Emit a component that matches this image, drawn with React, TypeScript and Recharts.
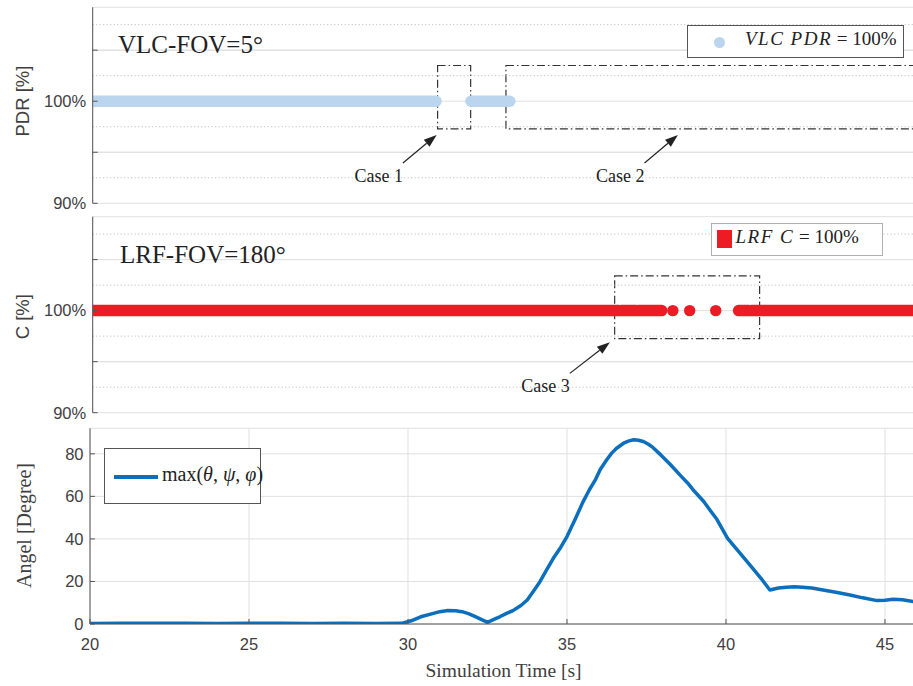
import React from "react";
import {
  ComposedChart,
  Line,
  Scatter,
  XAxis,
  YAxis,
  CartesianGrid,
  ReferenceArea,
  ReferenceLine,
  Legend,
} from "recharts";

// axis ticks
const timeTicks = [20, 25, 30, 35, 40, 45];
const timeDomain = [20, 45.9];
const pctTicks = [90, 95, 100, 105];
const pctMajor = [95, 105];
const pctMinor = [92.5, 97.5, 102.5, 107.5];
const pctDomain = [90, 109.2];
const angleTicks = [0, 20, 40, 60, 80];

// VLC PDR = 100% time spans
const vlcStart = [20, 31.9];
const vlcEnd = [30.8, 33.12];

// LRF C = 100% time spans and single samples
const lrfStart = [20, 36.62, 37.16, 40.32, 40.72];
const lrfEnd = [36.55, 37.1, 37.9, 40.65, 46];
const lrfSingle = [38.25, 38.78, 39.6];

// max(theta, psi, phi) in degrees
const angleTime = [
  20, 21, 22, 23, 24, 25, 26, 27, 28, 29, 29.8, 30.1, 30.4, 30.8, 31.0, 31.25, 31.5, 31.7, 31.9, 32.1,
  32.3, 32.5, 32.7, 32.9, 33.1, 33.3, 33.55, 33.75, 33.95, 34.15, 34.35, 34.57, 34.8, 35.0, 35.25,
  35.5, 35.7, 35.9, 36.05, 36.25, 36.4, 36.55, 36.8, 36.95, 37.1, 37.25, 37.4, 37.55, 37.7, 37.95,
  38.25, 38.55, 38.8, 39.0, 39.3, 39.5, 39.7, 40.05, 40.4, 40.75, 41.1, 41.38, 41.65, 41.9, 42.15,
  42.4, 42.7, 43.05, 43.5, 43.9, 44.3, 44.75, 45.0, 45.25, 45.55, 45.9,
];
const angleValue = [
  0.2, 0.3, 0.4, 0.3, 0.2, 0.3, 0.3, 0.2, 0.3, 0.2, 0.3, 1.5, 3.4, 5.0, 5.8, 6.3, 6.2, 5.8, 4.9, 3.6,
  2.2, 0.8, 2.2, 3.5, 5.0, 6.3, 8.7, 11.3, 15.5, 19.9, 25.2, 30.9, 36.0, 41.1, 49.0,
  57.3, 63.0, 68.0, 72.8, 77.2, 80.2, 82.5, 85.2, 86.1, 86.6, 86.4, 85.8, 84.6, 83.0, 79.5,
  75.0, 70.1, 66.2, 62.5, 57.6, 53.5, 49.5, 40.3, 34.0, 27.8, 21.5, 16.0, 16.9, 17.3, 17.5,
  17.3, 16.9, 16.0, 14.8, 13.6, 12.3, 11.0, 11.2, 11.6, 11.4, 10.5,
];

const SANS = "'Liberation Sans', Arial, sans-serif";
const SERIF = "'Liberation Serif', 'Times New Roman', serif";
const AXIS = "#555";
const TXT = "#404040";
const GRID = "#e0e0e0";
const VLC_BLUE = "#bcd5ee";
const LRF_RED = "#ed1c24";
const ANGLE_BLUE = "#0b6fbd";

const angleData = angleTime.map((t, i) => ({ t, v: angleValue[i] }));

const tickStyle = { fill: TXT, fontSize: 16.5, fontFamily: SANS };

const pctLabel = (v: number) => (v === 90 || v === 100 ? `${v}%` : "");

// arrow with its "Case n" text at the tail
const arrow = (text: string) => (p: any) => {
  const { x1, y1, x2, y2 } = p;
  const dx = x2 - x1;
  const dy = y2 - y1;
  const len = Math.hypot(dx, dy) || 1;
  const ux = dx / len;
  const uy = dy / len;
  const head = 13;
  const half = 4.5;
  const bx = x2 - ux * head;
  const by = y2 - uy * head;
  const pts = `${x2},${y2} ${bx - uy * half},${by + ux * half} ${bx + uy * half},${by - ux * half}`;
  return (
    <g>
      <line x1={x1} y1={y1} x2={bx} y2={by} stroke="#222" strokeWidth={1.2} />
      <polygon points={pts} fill="#222" />
      <text x={x1} y={y1 + 19} textAnchor="end" fontFamily={SERIF} fontSize={18} fill="#222">
        {text}
      </text>
    </g>
  );
};

const boxStyle = { stroke: "#333", strokeWidth: 1.2, strokeDasharray: "8 3 1.5 3", fill: "none", fillOpacity: 0 };

const yTitle = (text: string, cx: number, cy: number, font: string, size: number) => (
  <text
    x={cx}
    y={cy}
    transform={`rotate(-90, ${cx}, ${cy})`}
    textAnchor="middle"
    dominantBaseline="central"
    fontFamily={font}
    fontSize={size}
    fill={TXT}
  >
    {text}
  </text>
);

// shared frame: ticks pointing inward on all sides, solid grid at major ticks
function frame(yDomain: number[], yTicks: number[], yWidth: number, showX: boolean, yFmt?: (v: number) => string) {
  return [
    <CartesianGrid key="grid" stroke={GRID} strokeWidth={1} />,
    <XAxis
      key="xb"
      type="number"
      dataKey="t"
      domain={timeDomain}
      ticks={timeTicks}
      interval={0}
      allowDataOverflow
      tickSize={-5}
      tickMargin={19}
      tick={showX ? tickStyle : false}
      height={showX ? 62 : 0}
      axisLine={{ stroke: AXIS }}
      tickLine={{ stroke: AXIS }}
      label={showX ? () => (
        <text x={503.5} y={257} textAnchor="middle" fontFamily={SERIF} fontSize={19.5} fill={TXT}>
          Simulation Time [s]
        </text>
      ) : undefined}
    />,
    <XAxis
      key="xt"
      xAxisId="top"
      orientation="top"
      type="number"
      dataKey="t"
      domain={timeDomain}
      ticks={timeTicks}
      interval={0}
      allowDataOverflow
      tickSize={-5}
      tick={false}
      height={0}
      axisLine={{ stroke: AXIS }}
      tickLine={{ stroke: AXIS }}
    />,
    <YAxis
      key="yl"
      type="number"
      domain={yDomain}
      ticks={yTicks}
      interval={0}
      allowDataOverflow
      width={yWidth}
      tickSize={-5}
      tickMargin={11.5}
      tick={tickStyle}
      tickFormatter={yFmt}
      axisLine={{ stroke: AXIS }}
      tickLine={{ stroke: AXIS }}
    />,
    <YAxis
      key="yr"
      yAxisId="right"
      orientation="right"
      type="number"
      domain={yDomain}
      ticks={yTicks}
      interval={0}
      allowDataOverflow
      width={0}
      tickSize={-5}
      tick={false}
      axisLine={{ stroke: AXIS }}
      tickLine={{ stroke: AXIS }}
    />,
  ];
}

const pctGrid = [
  ...pctMajor.map((v) => <ReferenceLine key={`g${v}`} y={v} stroke={GRID} strokeWidth={1} />),
  ...pctMinor.map((v) => <ReferenceLine key={`m${v}`} y={v} stroke="#b5b5b5" strokeDasharray="1 2.5" />),
];

function VlcPanel() {
  return (
    <ComposedChart width={917} height={222} margin={{ top: 7.3, right: 1, bottom: 18.7, left: 0 }}>
      {frame(pctDomain, pctTicks, 92.7, false, pctLabel)}
      {pctGrid}
      {vlcStart.map((s, i) => (
        <Line
          key={`vlc${i}`}
          data={[{ t: s, v: 100 }, { t: vlcEnd[i], v: 100 }]}
          dataKey="v"
          type="linear"
          stroke={VLC_BLUE}
          strokeWidth={11.5}
          strokeLinecap="round"
          dot={false}
          activeDot={false}
          isAnimationActive={false}
        />
      ))}
      <ReferenceArea x1={30.85} x2={31.89} y1={97.3} y2={103.5} {...boxStyle} />
      <ReferenceArea x1={33.0} x2={45.9} y1={97.3} y2={103.5} {...boxStyle} />
      <ReferenceLine segment={[{ x: 29.76, y: 93.95 }, { x: 30.82, y: 96.7 }]} shape={arrow("Case 1")} />
      <ReferenceLine segment={[{ x: 37.36, y: 93.95 }, { x: 38.41, y: 96.7 }]} shape={arrow("Case 2")} />
      <Legend
        layout="vertical"
        align="center"
        verticalAlign="middle"
        wrapperStyle={{ left: 687, top: 25, width: 217, height: 33 }}
        content={() => (
          <div style={{ boxSizing: "border-box", width: 217, height: 33, border: "1px solid #555", background: "#fff", position: "relative" }}>
            <span style={{ position: "absolute", left: 25.5, top: 10.5, width: 11, height: 11, borderRadius: "50%", background: VLC_BLUE }} />
            <span style={{ position: "absolute", left: 57, top: 2, fontFamily: SERIF, fontSize: 19, color: "#222", whiteSpace: "nowrap" }}>
              <i style={{ letterSpacing: 1.5 }}>VLC PDR</i> = 100%
            </span>
          </div>
        )}
      />
    </ComposedChart>
  );
}

function LrfPanel() {
  return (
    <ComposedChart width={917} height={222} margin={{ top: 6.7, right: 1, bottom: 19.3, left: 0 }}>
      {frame(pctDomain, pctTicks, 92.7, false, pctLabel)}
      {pctGrid}
      {lrfStart.map((s, i) => (
        <Line
          key={`lrf${i}`}
          data={[{ t: s, v: 100 }, { t: lrfEnd[i], v: 100 }]}
          dataKey="v"
          type="linear"
          stroke={LRF_RED}
          strokeWidth={11.5}
          strokeLinecap="round"
          dot={false}
          activeDot={false}
          isAnimationActive={false}
        />
      ))}
      <Scatter
        data={lrfSingle.map((t) => ({ t, v: 100 }))}
        dataKey="v"
        isAnimationActive={false}
        shape={(p: any) => <circle cx={p.cx} cy={p.cy} r={5.7} fill={LRF_RED} />}
      />
      <ReferenceArea x1={36.42} x2={40.98} y1={97.25} y2={103.4} {...boxStyle} />
      <ReferenceLine segment={[{ x: 35.01, y: 93.85 }, { x: 36.27, y: 96.9 }]} shape={arrow("Case 3")} />
      <Legend
        layout="vertical"
        align="center"
        verticalAlign="middle"
        wrapperStyle={{ left: 710.5, top: 13.3, width: 172, height: 33 }}
        content={() => (
          <div style={{ boxSizing: "border-box", width: 172, height: 33, border: "1px solid #b0b0b0", background: "#fff", position: "relative" }}>
            <span style={{ position: "absolute", left: 5.5, top: 5.5, width: 14.5, height: 18.5, background: LRF_RED }} />
            <span style={{ position: "absolute", left: 24, top: 2, fontFamily: SERIF, fontSize: 19, color: "#222", whiteSpace: "nowrap" }}>
              <i style={{ letterSpacing: 1.5 }}>LRF C</i> = 100%
            </span>
          </div>
        )}
      />
    </ComposedChart>
  );
}

function AnglePanel() {
  return (
    <ComposedChart width={915} height={266} margin={{ top: 8.3, right: 1.4, bottom: 0, left: 0 }}>
      {frame([0, 92], angleTicks, 90, true)}
      <Line
        data={angleData}
        dataKey="v"
        type="linear"
        stroke={ANGLE_BLUE}
        strokeWidth={3.5}
        strokeLinejoin="round"
        dot={false}
        activeDot={false}
        isAnimationActive={false}
      />
      <Legend
        layout="vertical"
        align="center"
        verticalAlign="middle"
        wrapperStyle={{ left: 104, top: 27.7, width: 157, height: 56 }}
        content={() => (
          <div style={{ boxSizing: "border-box", width: 157, height: 56, border: "1px solid #555", background: "#fff", position: "relative" }}>
            <span style={{ position: "absolute", left: 8.5, top: 26, width: 44, height: 4, background: ANGLE_BLUE }} />
            <span style={{ position: "absolute", left: 57, top: 14, fontFamily: SERIF, fontSize: 20, color: "#222", whiteSpace: "nowrap" }}>
              max(<i>θ</i>, <i>ψ</i>, <i>φ</i>)
            </span>
          </div>
        )}
      />
    </ComposedChart>
  );
}

export default function App() {
  return (
    <div style={{ position: "absolute", left: 0, top: 0, width: 913, height: 686, overflow: "hidden", background: "#fff" }}>
      <div style={{ position: "absolute", left: 0, top: 0 }}>
        <VlcPanel />
      </div>
      <div style={{ position: "absolute", left: 0, top: 210 }}>
        <LrfPanel />
      </div>
      <div style={{ position: "absolute", left: 0, top: 420 }}>
        <AnglePanel />
      </div>
      <svg width={913} height={686} style={{ position: "absolute", left: 0, top: 0, pointerEvents: "none" }}>
        {yTitle("PDR [%]", 22.5, 101, SANS, 18.5)}
        {yTitle("C [%]", 22.5, 316.7, SANS, 18.5)}
        {yTitle("Angel [Degree]", 24, 525.5, SERIF, 20)}
        <text x={118} y={53.3} fontFamily={SERIF} fontSize={25} fill="#222">
          VLC-FOV=5°
        </text>
        <text x={120} y={263.3} fontFamily={SERIF} fontSize={25} fill="#222">
          LRF-FOV=180°
        </text>
      </svg>
    </div>
  );
}
